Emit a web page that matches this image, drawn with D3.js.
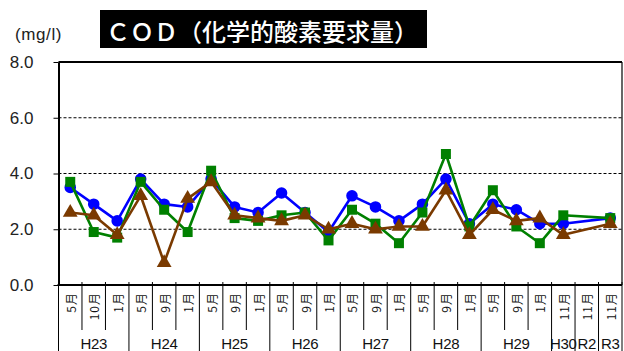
<!DOCTYPE html>
<html>
<head>
<meta charset="utf-8">
<script src="https://cdn.jsdelivr.net/npm/d3@7"></script>
<style>
  html, body { margin: 0; padding: 0; background: #fff; }
  svg { display: block; }
</style>
</head>
<body>
<svg id="chart" width="624" height="351"></svg>
<script>
// Sampling occasions: month label and the fiscal-year group it belongs to
const months = ["5月","10月","1月","5月","9月","1月","5月","9月","1月","5月","9月","1月",
                "5月","9月","1月","5月","9月","1月","5月","9月","1月","11月","11月","11月"];
const yearGroups = [
  { label: "H23", start: 0,  end: 3 },
  { label: "H24", start: 3,  end: 6 },
  { label: "H25", start: 6,  end: 9 },
  { label: "H26", start: 9,  end: 12 },
  { label: "H27", start: 12, end: 15 },
  { label: "H28", start: 15, end: 18 },
  { label: "H29", start: 18, end: 21 },
  { label: "H30", start: 21, end: 22 },
  { label: "R2",  start: 22, end: 23 },
  { label: "R3",  start: 23, end: 24 }
];

// COD (mg/l) at three sampling points; null = not measured
const pointBlue  = [3.5, 2.9, 2.3, 3.8, 2.9, 2.8, 3.8, 2.8, 2.6, 3.3, 2.6, 1.9,
                    3.2, 2.8, 2.3, 2.9, 3.8, 2.2, 2.9, 2.7, 2.2, 2.2, null, 2.4];
const pointGreen = [3.7, 1.9, 1.7, 3.7, 2.7, 1.9, 4.1, 2.4, 2.3, 2.5, 2.6, 1.6,
                    2.7, 2.2, 1.5, 2.6, 4.7, 2.1, 3.4, 2.1, 1.5, 2.5, null, 2.4];
const pointBrown = [2.6, 2.5, 1.8, 3.2, 0.8, 3.1, 3.7, 2.5, 2.4, 2.3, 2.5, 2.0,
                    2.2, 2.0, 2.1, 2.1, 3.4, 1.8, 2.7, 2.3, 2.4, 1.8, null, 2.2];

const yTicks = [0, 2, 4, 6, 8];
const titleText = "ＣＯＤ（化学的酸素要求量）";
const unitText = "(mg/l)";

const series = [
  { values: pointBlue,  color: "#0000ff", marker: "circle" },
  { values: pointGreen, color: "#008000", marker: "square" },
  { values: pointBrown, color: "#7a3a00", marker: "triangle" }
];

const svg = d3.select("#chart");
const plotLeft = 58.5, plotRight = 622, plotTop = 62, plotBottom = 285;

const x = d3.scaleBand().domain(d3.range(months.length)).range([plotLeft, plotRight]).paddingInner(0).paddingOuter(0);
const y = d3.scaleLinear().domain([0, 8]).range([plotBottom, plotTop]);
const cx = i => x(i) + x.bandwidth() / 2;
const edge = i => i < months.length ? x(i) : plotRight;

// Title block
svg.append("rect").attr("x", 100).attr("y", 10).attr("width", 327).attr("height", 38).attr("fill", "#000");
svg.append("text").attr("x", 106).attr("y", 30)
  .attr("dominant-baseline", "central")
  .attr("font-family", "'Noto Sans CJK JP', sans-serif")
  .attr("font-size", 24).attr("font-weight", 500)
  .attr("fill", "#fff").text(titleText);

// Unit label
svg.append("text").attr("x", 15).attr("y", 34)
  .attr("dominant-baseline", "central")
  .attr("font-family", "'Liberation Sans', Arial, sans-serif")
  .attr("font-size", 17).attr("letter-spacing", 0.6).attr("fill", "#222").text(unitText);

// Dashed gridlines
svg.append("g").selectAll("line").data(yTicks.filter(t => t > 0 && t < 8)).join("line")
  .attr("x1", plotLeft).attr("x2", plotRight)
  .attr("y1", d => y(d)).attr("y2", d => y(d))
  .attr("stroke", "#000").attr("stroke-width", 1).attr("stroke-dasharray", "3,2");

// Plot frame: heavy top, light right
svg.append("line").attr("x1", plotLeft).attr("x2", plotRight).attr("y1", plotTop).attr("y2", plotTop)
  .attr("stroke", "#000").attr("stroke-width", 2);
svg.append("line").attr("x1", plotRight).attr("x2", plotRight).attr("y1", plotTop).attr("y2", plotBottom)
  .attr("stroke", "#000").attr("stroke-width", 1.2);

// Y axis
const yAxis = d3.axisLeft(y).tickValues(yTicks).tickFormat(d3.format(".1f"))
  .tickSize(5).tickSizeOuter(0).tickPadding(20);
const gy = svg.append("g").attr("transform", `translate(${plotLeft},0)`).call(yAxis);
gy.select(".domain").attr("stroke", "#000").attr("stroke-width", 2);
gy.selectAll(".tick line").attr("stroke", "#000");
gy.selectAll("text")
  .attr("font-family", "'Liberation Sans', Arial, sans-serif")
  .attr("font-size", 17).attr("fill", "#222");

// Category axis: boundary lines, month labels, year groups
const groupEdges = new Set(yearGroups.flatMap(g => [g.start, g.end]));
const cat = svg.append("g");
cat.selectAll("line.sep").data(d3.range(months.length + 1)).join("line")
  .attr("class", "sep")
  .attr("x1", d => edge(d)).attr("x2", d => edge(d))
  .attr("y1", plotBottom - 3)
  .attr("y2", d => groupEdges.has(d) ? 351 : 330)
  .attr("stroke", "#000").attr("stroke-width", 1);
cat.append("line").attr("x1", plotLeft - 1).attr("x2", plotRight).attr("y1", plotBottom).attr("y2", plotBottom)
  .attr("stroke", "#000").attr("stroke-width", 2);

cat.selectAll("text.month").data(months).join("text")
  .attr("class", "month")
  .attr("transform", (d, i) => `translate(${cx(i)},292) rotate(-90)`)
  .attr("text-anchor", "end")
  .attr("dominant-baseline", "central")
  .attr("font-family", "'Noto Sans CJK JP', sans-serif")
  .attr("font-size", 12).attr("letter-spacing", 1).attr("fill", "#111")
  .text(d => d);

cat.selectAll("text.year").data(yearGroups).join("text")
  .attr("class", "year")
  .attr("x", d => (edge(d.start) + edge(d.end)) / 2)
  .attr("y", 349)
  .attr("text-anchor", "middle")
  .attr("font-family", "'Liberation Sans', Arial, sans-serif")
  .attr("font-size", 15).attr("letter-spacing", -0.3).attr("fill", "#111")
  .text(d => d.label);

// Series lines (gaps bridged) and markers
const line = d3.line().x(d => cx(d.i)).y(d => y(d.v));
const plot = svg.append("g");
series.forEach(s => {
  const pts = s.values.map((v, i) => ({ v, i })).filter(d => d.v != null);
  plot.append("path").datum(pts).attr("d", line)
    .attr("fill", "none").attr("stroke", s.color).attr("stroke-width", 2.6)
    .attr("stroke-linejoin", "round");
  const sym = s.marker === "circle" ? d3.symbolCircle : s.marker === "square" ? d3.symbolSquare : d3.symbolTriangle;
  const size = s.marker === "circle" ? 105 : s.marker === "square" ? 100 : 95;
  plot.append("g").selectAll("path").data(pts).join("path")
    .attr("transform", d => `translate(${cx(d.i)},${y(d.v)})`)
    .attr("d", d3.symbol().type(sym).size(size))
    .attr("fill", s.color);
});
</script>
</body>
</html>
